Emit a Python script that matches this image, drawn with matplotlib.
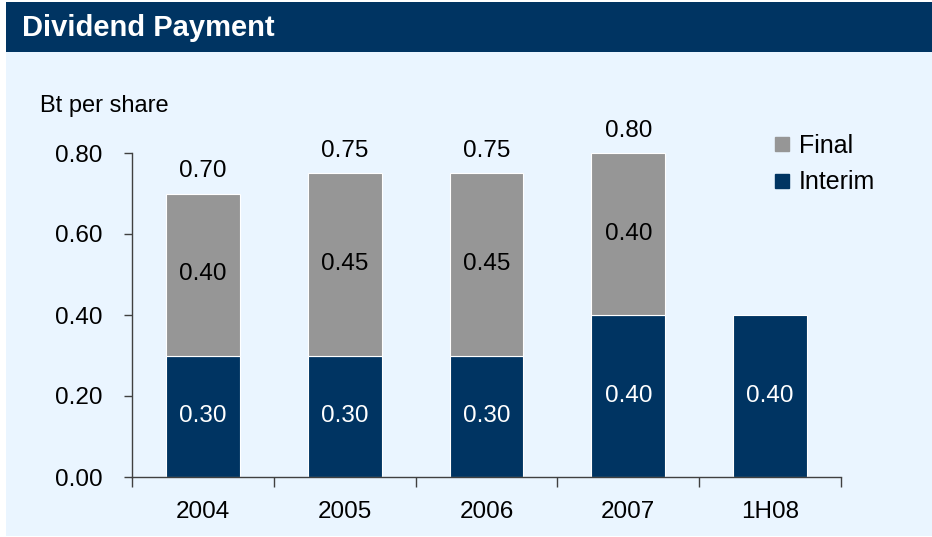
import matplotlib
matplotlib.use("Agg")
import matplotlib.pyplot as plt
from matplotlib.patches import Rectangle
from matplotlib.lines import Line2D
import numpy as np

plt.rcParams['font.family'] = ['Liberation Sans', 'DejaVu Sans']

# data
periods = ['2004', '2005', '2006', '2007', '1H08']
interim = [0.30, 0.30, 0.30, 0.40, 0.40]
final = [0.40, 0.45, 0.45, 0.40, 0.0]
totals = [0.70, 0.75, 0.75, 0.80, None]
yticks = [0.0, 0.2, 0.4, 0.6, 0.8]

navy = '#003462'
grey = '#969696'
bg = '#EAF5FF'

fig = plt.figure(figsize=(9.32, 5.37), dpi=100)
W, H = 932.0, 537.0

# panel background and title bar
fig.patches.append(Rectangle((6 / W, 1 / H), 1 - 6 / W, 534 / H, transform=fig.transFigure,
                             facecolor=bg, edgecolor='none', zorder=-2))
fig.patches.append(Rectangle((6 / W, 1 - 52 / H), 1 - 6 / W, 50 / H, transform=fig.transFigure,
                             facecolor=navy, edgecolor='none', zorder=-1))
fig.text(22 / W, 1 - 28 / H, 'Dividend Payment', color='white', fontsize=21,
         fontweight='bold', va='center', ha='left')
fig.text(40 / W, 1 - 106 / H, 'Bt per share', fontsize=17, va='center', ha='left')

ax = fig.add_axes([132 / W, 60 / H, 709 / W, 324 / H])
ax.set_zorder(2)
ax.set_facecolor('none')

x = np.arange(len(periods))
ax.bar(x, interim, width=0.52, color=navy, edgecolor='white', linewidth=0.8, zorder=2)
ax.bar(x[:4], final[:4], width=0.52, bottom=interim[:4], color=grey,
       edgecolor='white', linewidth=0.8, zorder=2)

fs = 17.5
for i in range(len(periods)):
    ax.text(x[i], interim[i] / 2, '%.2f' % interim[i], ha='center', va='center',
            color='white', fontsize=fs, zorder=3)
    if final[i] > 0:
        ax.text(x[i], interim[i] + final[i] / 2, '%.2f' % final[i], ha='center',
                va='center', color='black', fontsize=fs, zorder=3)
    if totals[i] is not None:
        ax.text(x[i], totals[i] + 0.055, '%.2f' % totals[i], ha='center',
                va='center', color='black', fontsize=fs, zorder=3, clip_on=False)

ax.set_xlim(-0.5, len(periods) - 0.5)
ax.set_ylim(0, 0.8)
ax.set_yticks(yticks)
ax.set_yticklabels(['%.2f' % v for v in yticks])
ax.set_xticks(x)
ax.set_xticklabels(periods)
ax.set_xticks(np.arange(-0.5, len(periods)), minor=True)

for s in ['top', 'right']:
    ax.spines[s].set_visible(False)
for s in ['left', 'bottom']:
    ax.spines[s].set_color('#404040')
    ax.spines[s].set_linewidth(1)

ax.tick_params(axis='y', direction='out', length=6, width=1, color='#404040',
               labelsize=fs, pad=15)
ax.tick_params(axis='x', which='major', length=0, labelsize=fs, pad=17)
ax.tick_params(axis='x', which='minor', direction='out', length=7, width=1, color='#404040')

handles = [Line2D([], [], marker='s', ls='', color=grey, markersize=9.5),
           Line2D([], [], marker='s', ls='', color=navy, markersize=9.5)]
fig.legend(handles, ['Final', 'Interim'], loc='center left',
           bbox_to_anchor=(759 / W, 1 - 164 / H), frameon=False, fontsize=18,
           handlelength=0.8, handletextpad=0.3, labelspacing=0.5, borderpad=0)

fig.savefig('out.png', dpi=100, facecolor='white')
